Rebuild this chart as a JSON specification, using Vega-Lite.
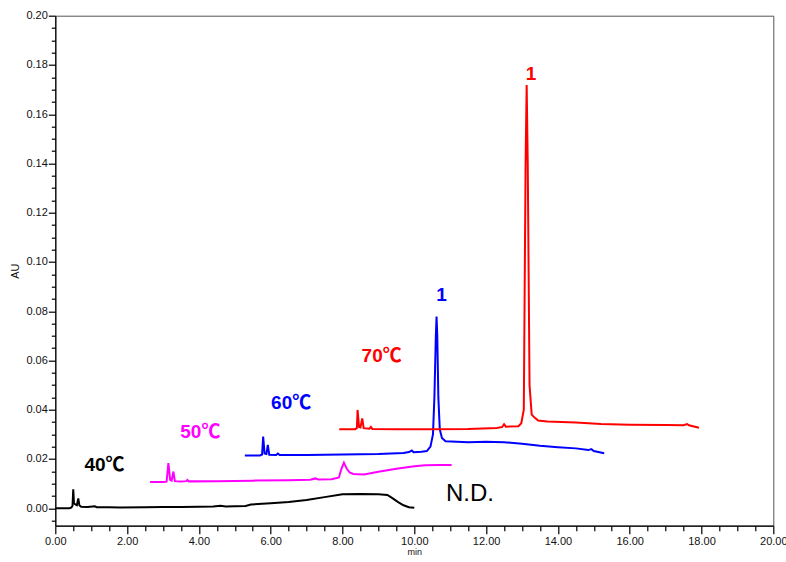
{
  "$schema": "https://vega.github.io/schema/vega-lite/v6.json",
  "width": 718,
  "height": 510,
  "autosize": {"type": "none"},
  "padding": {"left": 55.3, "top": 15.7, "right": 12.7, "bottom": 36.3},
  "background": "white",
  "config": {
    "view": {"stroke": "#555555", "strokeWidth": 1},
    "axis": {
      "grid": false,
      "domainColor": "#000000",
      "domainWidth": 1.2,
      "tickColor": "#000000",
      "tickWidth": 1.2,
      "labelColor": "#111111",
      "labelFont": "Liberation Sans",
      "labelFontSize": 11,
      "titleFont": "Liberation Sans",
      "titleFontWeight": "normal",
      "titleColor": "#111111"
    }
  },
  "datasets": {
    "traces": [
      {"series": "40℃", "t": 0.00, "au": 0.0000},
      {"series": "40℃", "t": 0.40, "au": 0.0000},
      {"series": "40℃", "t": 0.45, "au": 0.0003},
      {"series": "40℃", "t": 0.48, "au": 0.0010},
      {"series": "40℃", "t": 0.50, "au": 0.0077},
      {"series": "40℃", "t": 0.52, "au": 0.0020},
      {"series": "40℃", "t": 0.56, "au": 0.0015},
      {"series": "40℃", "t": 0.60, "au": 0.0012},
      {"series": "40℃", "t": 0.64, "au": 0.0040},
      {"series": "40℃", "t": 0.67, "au": 0.0012},
      {"series": "40℃", "t": 0.72, "au": 0.0006},
      {"series": "40℃", "t": 0.90, "au": 0.0005},
      {"series": "40℃", "t": 1.10, "au": 0.0008},
      {"series": "40℃", "t": 1.15, "au": 0.0004},
      {"series": "40℃", "t": 1.50, "au": 0.0004},
      {"series": "40℃", "t": 1.80, "au": 0.0003},
      {"series": "40℃", "t": 2.50, "au": 0.0004},
      {"series": "40℃", "t": 3.00, "au": 0.0005},
      {"series": "40℃", "t": 3.50, "au": 0.0005},
      {"series": "40℃", "t": 4.00, "au": 0.0006},
      {"series": "40℃", "t": 4.40, "au": 0.0007},
      {"series": "40℃", "t": 4.60, "au": 0.0010},
      {"series": "40℃", "t": 4.75, "au": 0.0007},
      {"series": "40℃", "t": 5.00, "au": 0.0008},
      {"series": "40℃", "t": 5.30, "au": 0.0009},
      {"series": "40℃", "t": 5.45, "au": 0.0015},
      {"series": "40℃", "t": 6.00, "au": 0.0020},
      {"series": "40℃", "t": 6.50, "au": 0.0025},
      {"series": "40℃", "t": 7.00, "au": 0.0033},
      {"series": "40℃", "t": 7.50, "au": 0.0045},
      {"series": "40℃", "t": 8.00, "au": 0.0057},
      {"series": "40℃", "t": 8.50, "au": 0.0058},
      {"series": "40℃", "t": 9.00, "au": 0.0057},
      {"series": "40℃", "t": 9.25, "au": 0.0054},
      {"series": "40℃", "t": 9.40, "au": 0.0040},
      {"series": "40℃", "t": 9.55, "au": 0.0025},
      {"series": "40℃", "t": 9.70, "au": 0.0012},
      {"series": "40℃", "t": 9.85, "au": 0.0004},
      {"series": "40℃", "t": 10.00, "au": 0.0002},

      {"series": "50℃", "t": 2.64, "au": 0.0106},
      {"series": "50℃", "t": 3.00, "au": 0.0106},
      {"series": "50℃", "t": 3.10, "au": 0.0108},
      {"series": "50℃", "t": 3.15, "au": 0.0183},
      {"series": "50℃", "t": 3.20, "au": 0.0115},
      {"series": "50℃", "t": 3.24, "au": 0.0112},
      {"series": "50℃", "t": 3.29, "au": 0.0149},
      {"series": "50℃", "t": 3.33, "au": 0.0110},
      {"series": "50℃", "t": 3.50, "au": 0.0108},
      {"series": "50℃", "t": 3.65, "au": 0.0110},
      {"series": "50℃", "t": 3.68, "au": 0.0115},
      {"series": "50℃", "t": 3.72, "au": 0.0109},
      {"series": "50℃", "t": 4.50, "au": 0.0110},
      {"series": "50℃", "t": 5.50, "au": 0.0112},
      {"series": "50℃", "t": 6.50, "au": 0.0114},
      {"series": "50℃", "t": 7.10, "au": 0.0116},
      {"series": "50℃", "t": 7.25, "au": 0.0121},
      {"series": "50℃", "t": 7.32, "au": 0.0117},
      {"series": "50℃", "t": 7.70, "au": 0.0118},
      {"series": "50℃", "t": 7.90, "au": 0.0125},
      {"series": "50℃", "t": 7.97, "au": 0.0160},
      {"series": "50℃", "t": 8.04, "au": 0.0185},
      {"series": "50℃", "t": 8.12, "au": 0.0160},
      {"series": "50℃", "t": 8.20, "au": 0.0145},
      {"series": "50℃", "t": 8.30, "au": 0.0139},
      {"series": "50℃", "t": 8.60, "au": 0.0137},
      {"series": "50℃", "t": 9.00, "au": 0.0148},
      {"series": "50℃", "t": 9.50, "au": 0.0160},
      {"series": "50℃", "t": 10.00, "au": 0.0170},
      {"series": "50℃", "t": 10.30, "au": 0.0174},
      {"series": "50℃", "t": 10.70, "au": 0.0175},
      {"series": "50℃", "t": 11.04, "au": 0.0175},

      {"series": "60℃", "t": 5.28, "au": 0.0214},
      {"series": "60℃", "t": 5.70, "au": 0.0214},
      {"series": "60℃", "t": 5.76, "au": 0.0218},
      {"series": "60℃", "t": 5.79, "au": 0.0291},
      {"series": "60℃", "t": 5.83, "au": 0.0222},
      {"series": "60℃", "t": 5.88, "au": 0.0220},
      {"series": "60℃", "t": 5.92, "au": 0.0257},
      {"series": "60℃", "t": 5.96, "au": 0.0217},
      {"series": "60℃", "t": 6.15, "au": 0.0216},
      {"series": "60℃", "t": 6.20, "au": 0.0222},
      {"series": "60℃", "t": 6.25, "au": 0.0216},
      {"series": "60℃", "t": 7.00, "au": 0.0216},
      {"series": "60℃", "t": 8.00, "au": 0.0218},
      {"series": "60℃", "t": 9.00, "au": 0.0220},
      {"series": "60℃", "t": 9.70, "au": 0.0224},
      {"series": "60℃", "t": 9.85, "au": 0.0228},
      {"series": "60℃", "t": 9.93, "au": 0.0234},
      {"series": "60℃", "t": 9.98, "au": 0.0227},
      {"series": "60℃", "t": 10.20, "au": 0.0229},
      {"series": "60℃", "t": 10.35, "au": 0.0232},
      {"series": "60℃", "t": 10.45, "au": 0.0250},
      {"series": "60℃", "t": 10.52, "au": 0.0300},
      {"series": "60℃", "t": 10.56, "au": 0.0450},
      {"series": "60℃", "t": 10.60, "au": 0.0700},
      {"series": "60℃", "t": 10.62, "au": 0.0778},
      {"series": "60℃", "t": 10.64, "au": 0.0700},
      {"series": "60℃", "t": 10.67, "au": 0.0450},
      {"series": "60℃", "t": 10.71, "au": 0.0320},
      {"series": "60℃", "t": 10.77, "au": 0.0285},
      {"series": "60℃", "t": 10.87, "au": 0.0272},
      {"series": "60℃", "t": 11.50, "au": 0.0268},
      {"series": "60℃", "t": 12.00, "au": 0.0270},
      {"series": "60℃", "t": 12.50, "au": 0.0268},
      {"series": "60℃", "t": 13.00, "au": 0.0262},
      {"series": "60℃", "t": 13.50, "au": 0.0254},
      {"series": "60℃", "t": 14.00, "au": 0.0248},
      {"series": "60℃", "t": 14.50, "au": 0.0243},
      {"series": "60℃", "t": 14.85, "au": 0.0236},
      {"series": "60℃", "t": 14.93, "au": 0.0240},
      {"series": "60℃", "t": 15.00, "au": 0.0232},
      {"series": "60℃", "t": 15.29, "au": 0.0223},

      {"series": "70℃", "t": 7.91, "au": 0.0321},
      {"series": "70℃", "t": 8.35, "au": 0.0321},
      {"series": "70℃", "t": 8.40, "au": 0.0325},
      {"series": "70℃", "t": 8.42, "au": 0.0399},
      {"series": "70℃", "t": 8.46, "au": 0.0330},
      {"series": "70℃", "t": 8.50, "au": 0.0328},
      {"series": "70℃", "t": 8.55, "au": 0.0365},
      {"series": "70℃", "t": 8.59, "au": 0.0325},
      {"series": "70℃", "t": 8.75, "au": 0.0323},
      {"series": "70℃", "t": 8.79, "au": 0.0330},
      {"series": "70℃", "t": 8.83, "au": 0.0322},
      {"series": "70℃", "t": 9.50, "au": 0.0321},
      {"series": "70℃", "t": 10.50, "au": 0.0321},
      {"series": "70℃", "t": 11.50, "au": 0.0322},
      {"series": "70℃", "t": 12.30, "au": 0.0326},
      {"series": "70℃", "t": 12.45, "au": 0.0330},
      {"series": "70℃", "t": 12.50, "au": 0.0341},
      {"series": "70℃", "t": 12.55, "au": 0.0331},
      {"series": "70℃", "t": 12.90, "au": 0.0333},
      {"series": "70℃", "t": 12.98, "au": 0.0345},
      {"series": "70℃", "t": 13.05, "au": 0.0400},
      {"series": "70℃", "t": 13.10, "au": 0.1400},
      {"series": "70℃", "t": 13.13, "au": 0.1719},
      {"series": "70℃", "t": 13.16, "au": 0.1400},
      {"series": "70℃", "t": 13.21, "au": 0.0500},
      {"series": "70℃", "t": 13.27, "au": 0.0380},
      {"series": "70℃", "t": 13.35, "au": 0.0368},
      {"series": "70℃", "t": 13.45, "au": 0.0356},
      {"series": "70℃", "t": 13.70, "au": 0.0352},
      {"series": "70℃", "t": 14.50, "au": 0.0348},
      {"series": "70℃", "t": 15.20, "au": 0.0342},
      {"series": "70℃", "t": 16.00, "au": 0.0339},
      {"series": "70℃", "t": 17.00, "au": 0.0338},
      {"series": "70℃", "t": 17.50, "au": 0.0337},
      {"series": "70℃", "t": 17.60, "au": 0.0342},
      {"series": "70℃", "t": 17.65, "au": 0.0337},
      {"series": "70℃", "t": 17.93, "au": 0.0327}
    ],
    "labels": [
      {"series": "40℃", "text": "40℃", "t": 1.37, "au": 0.0176},
      {"series": "50℃", "text": "50℃", "t": 4.04, "au": 0.0311},
      {"series": "60℃", "text": "60℃", "t": 6.57, "au": 0.0426},
      {"series": "70℃", "text": "70℃", "t": 9.09, "au": 0.0618},
      {"series": "60℃", "text": "1", "t": 10.76, "au": 0.0866},
      {"series": "70℃", "text": "1", "t": 13.25, "au": 0.1763}
    ],
    "nd": [
      {"text": "N.D.", "t": 11.55, "au": 0.0057}
    ]
  },
  "resolve": {"axis": {"x": "independent", "y": "independent"}},
  "layer": [
    {
      "data": {"name": "traces"},
      "mark": {"type": "line", "strokeWidth": 2, "clip": true},
      "encoding": {
        "x": {
          "field": "t", "type": "quantitative",
          "scale": {"domain": [0, 20], "nice": false, "zero": false},
          "axis": {
            "orient": "bottom",
            "values": [0, 2, 4, 6, 8, 10, 12, 14, 16, 18, 20],
            "format": ".2f", "tickSize": 8, "labelPadding": 2, "labelFlush": false,
            "title": "min", "titleFontSize": 9, "titlePadding": 1
          }
        },
        "y": {
          "field": "au", "type": "quantitative",
          "scale": {"domain": [-0.0071, 0.2], "nice": false, "zero": false},
          "axis": {
            "orient": "left",
            "values": [0, 0.02, 0.04, 0.06, 0.08, 0.1, 0.12, 0.14, 0.16, 0.18, 0.2],
            "format": ".2f", "tickSize": 7, "labelPadding": 1, "labelFlush": false,
            "title": "AU", "titleFontSize": 11, "titlePadding": 5
          }
        },
        "color": {
          "field": "series", "type": "nominal",
          "scale": {"domain": ["40℃", "50℃", "60℃", "70℃"], "range": ["#000000", "#ff00ff", "#0000ff", "#ff0000"]},
          "legend": null
        }
      }
    },
    {
      "data": {"name": "labels"},
      "mark": {"type": "text", "font": "'Liberation Sans', 'Noto Sans CJK JP', sans-serif", "fontWeight": "bold", "fontSize": 19, "align": "center", "baseline": "middle"},
      "encoding": {
        "x": {
          "field": "t", "type": "quantitative",
          "axis": {
            "orient": "bottom",
            "values": [0.5, 1, 1.5, 2.5, 3, 3.5, 4.5, 5, 5.5, 6.5, 7, 7.5, 8.5, 9, 9.5, 10.5, 11, 11.5, 12.5, 13, 13.5, 14.5, 15, 15.5, 16.5, 17, 17.5, 18.5, 19, 19.5],
            "labels": false, "domain": false, "tickSize": 5, "title": null
          }
        },
        "y": {
          "field": "au", "type": "quantitative",
          "axis": {
            "orient": "left",
            "values": [-0.005, 0.005, 0.01, 0.015, 0.025, 0.03, 0.035, 0.045, 0.05, 0.055, 0.065, 0.07, 0.075, 0.085, 0.09, 0.095, 0.105, 0.11, 0.115, 0.125, 0.13, 0.135, 0.145, 0.15, 0.155, 0.165, 0.17, 0.175, 0.185, 0.19, 0.195],
            "labels": false, "domain": false, "tickSize": 4, "title": null
          }
        },
        "text": {"field": "text"},
        "color": {"field": "series", "type": "nominal", "legend": null}
      }
    },
    {
      "data": {"name": "nd"},
      "mark": {"type": "text", "font": "Liberation Sans", "fontSize": 24, "align": "center", "baseline": "middle", "color": "#000000"},
      "encoding": {
        "x": {"field": "t", "type": "quantitative", "axis": null},
        "y": {"field": "au", "type": "quantitative", "axis": null},
        "text": {"field": "text"}
      }
    }
  ]
}
